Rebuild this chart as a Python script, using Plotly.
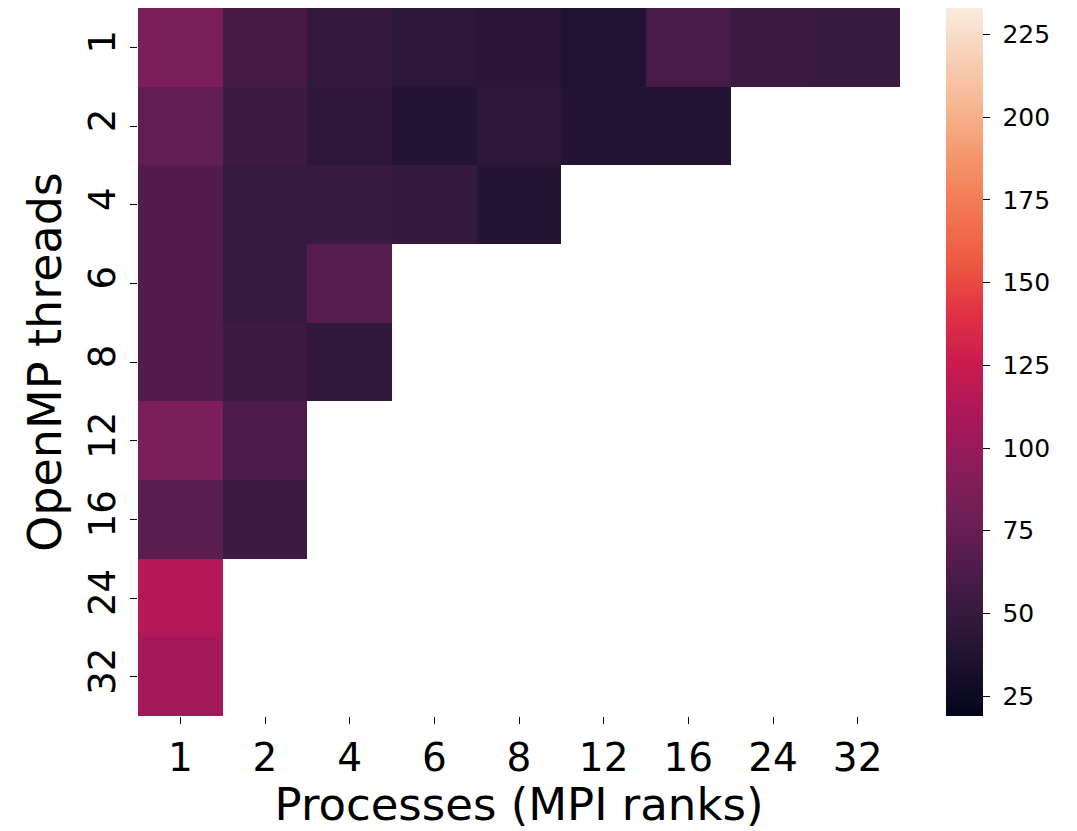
import plotly.graph_objects as go

processes = ["1", "2", "4", "6", "8", "12", "16", "24", "32"]
threads = ["1", "2", "4", "6", "8", "12", "16", "24", "32"]
nan = None
# rows = OpenMP threads, columns = MPI ranks
row_t1 = [86, 58, 49, 44, 42, 37, 59, 54, 51]
row_t2 = [73, 54, 46, 39, 44, 39, 38, nan, nan]
row_t4 = [66, 51, 51, 50, 40, nan, nan, nan, nan]
row_t6 = [66, 51, 67, nan, nan, nan, nan, nan, nan]
row_t8 = [66, 54, 47, nan, nan, nan, nan, nan, nan]
row_t12 = [86, 62, nan, nan, nan, nan, nan, nan, nan]
row_t16 = [69, 54, nan, nan, nan, nan, nan, nan, nan]
row_t24 = [115, nan, nan, nan, nan, nan, nan, nan, nan]
row_t32 = [105, nan, nan, nan, nan, nan, nan, nan, nan]
z = [row_t1, row_t2, row_t4, row_t6, row_t8, row_t12, row_t16, row_t24, row_t32]

cb_ticks = [25, 50, 75, 100, 125, 150, 175, 200, 225]
cb_labels = ["\u00a0" + str(v) for v in cb_ticks]
zmin, zmax = 19, 233

rocket = [
    [0.0, "#03051a"],
    [0.0714, "#1c1130"],
    [0.1429, "#35193e"],
    [0.2143, "#521c4c"],
    [0.2857, "#701f57"],
    [0.357, "#8e1c5b"],
    [0.4286, "#ad1759"],
    [0.5, "#cb1b4f"],
    [0.5714, "#e13342"],
    [0.643, "#ee5a42"],
    [0.7143, "#f37651"],
    [0.786, "#f4956a"],
    [0.8571, "#f6b48f"],
    [0.93, "#f7d0b5"],
    [1.0, "#faebdd"],
]

font = "DejaVu Sans"
L, R, T, B = 138, 900, 8, 716
W, H = 1077, 831
fig = go.Figure(go.Heatmap(
    z=z, x=processes, y=threads,
    zmin=zmin, zmax=zmax, colorscale=rocket,
    hoverongaps=False,
    colorbar=dict(
        x=(946 - L) / (R - L), xanchor="left", y=0.5, yanchor="middle",
        len=1.0, lenmode="fraction", thickness=37, outlinewidth=0, xpad=0, ypad=0,
        tickvals=cb_ticks, ticktext=cb_labels, ticks="outside", ticklen=7, tickwidth=1.2,
        tickcolor="black", tickfont=dict(family=font, size=25, color="black"),
    ),
))

fig.update_layout(
    width=W, height=H,
    margin=dict(l=L, r=W - R, t=T, b=H - B, autoexpand=False),
    paper_bgcolor="white", plot_bgcolor="white",
    font=dict(family=font, color="black"),
)
fig.update_xaxes(
    type="category", showgrid=False, zeroline=False,
    ticks="outside", ticklen=7, tickwidth=1.2, tickcolor="black",
    tickfont=dict(family=font, size=39),
    title=dict(text="Processes (MPI ranks)", font=dict(family=font, size=45), standoff=5),
)
fig.update_yaxes(
    type="category", autorange="reversed", showgrid=False, zeroline=False,
    ticks="outside", ticklen=7, tickwidth=1.2, tickcolor="black",
    tickangle=-90,
    tickfont=dict(family=font, size=37),
    title=dict(text="OpenMP threads", font=dict(family=font, size=46), standoff=5),
)

fig.write_html(
    "out.html",
    config={"displayModeBar": False},
    post_script="document.body.style.margin='0';document.body.style.padding='0';",
)
